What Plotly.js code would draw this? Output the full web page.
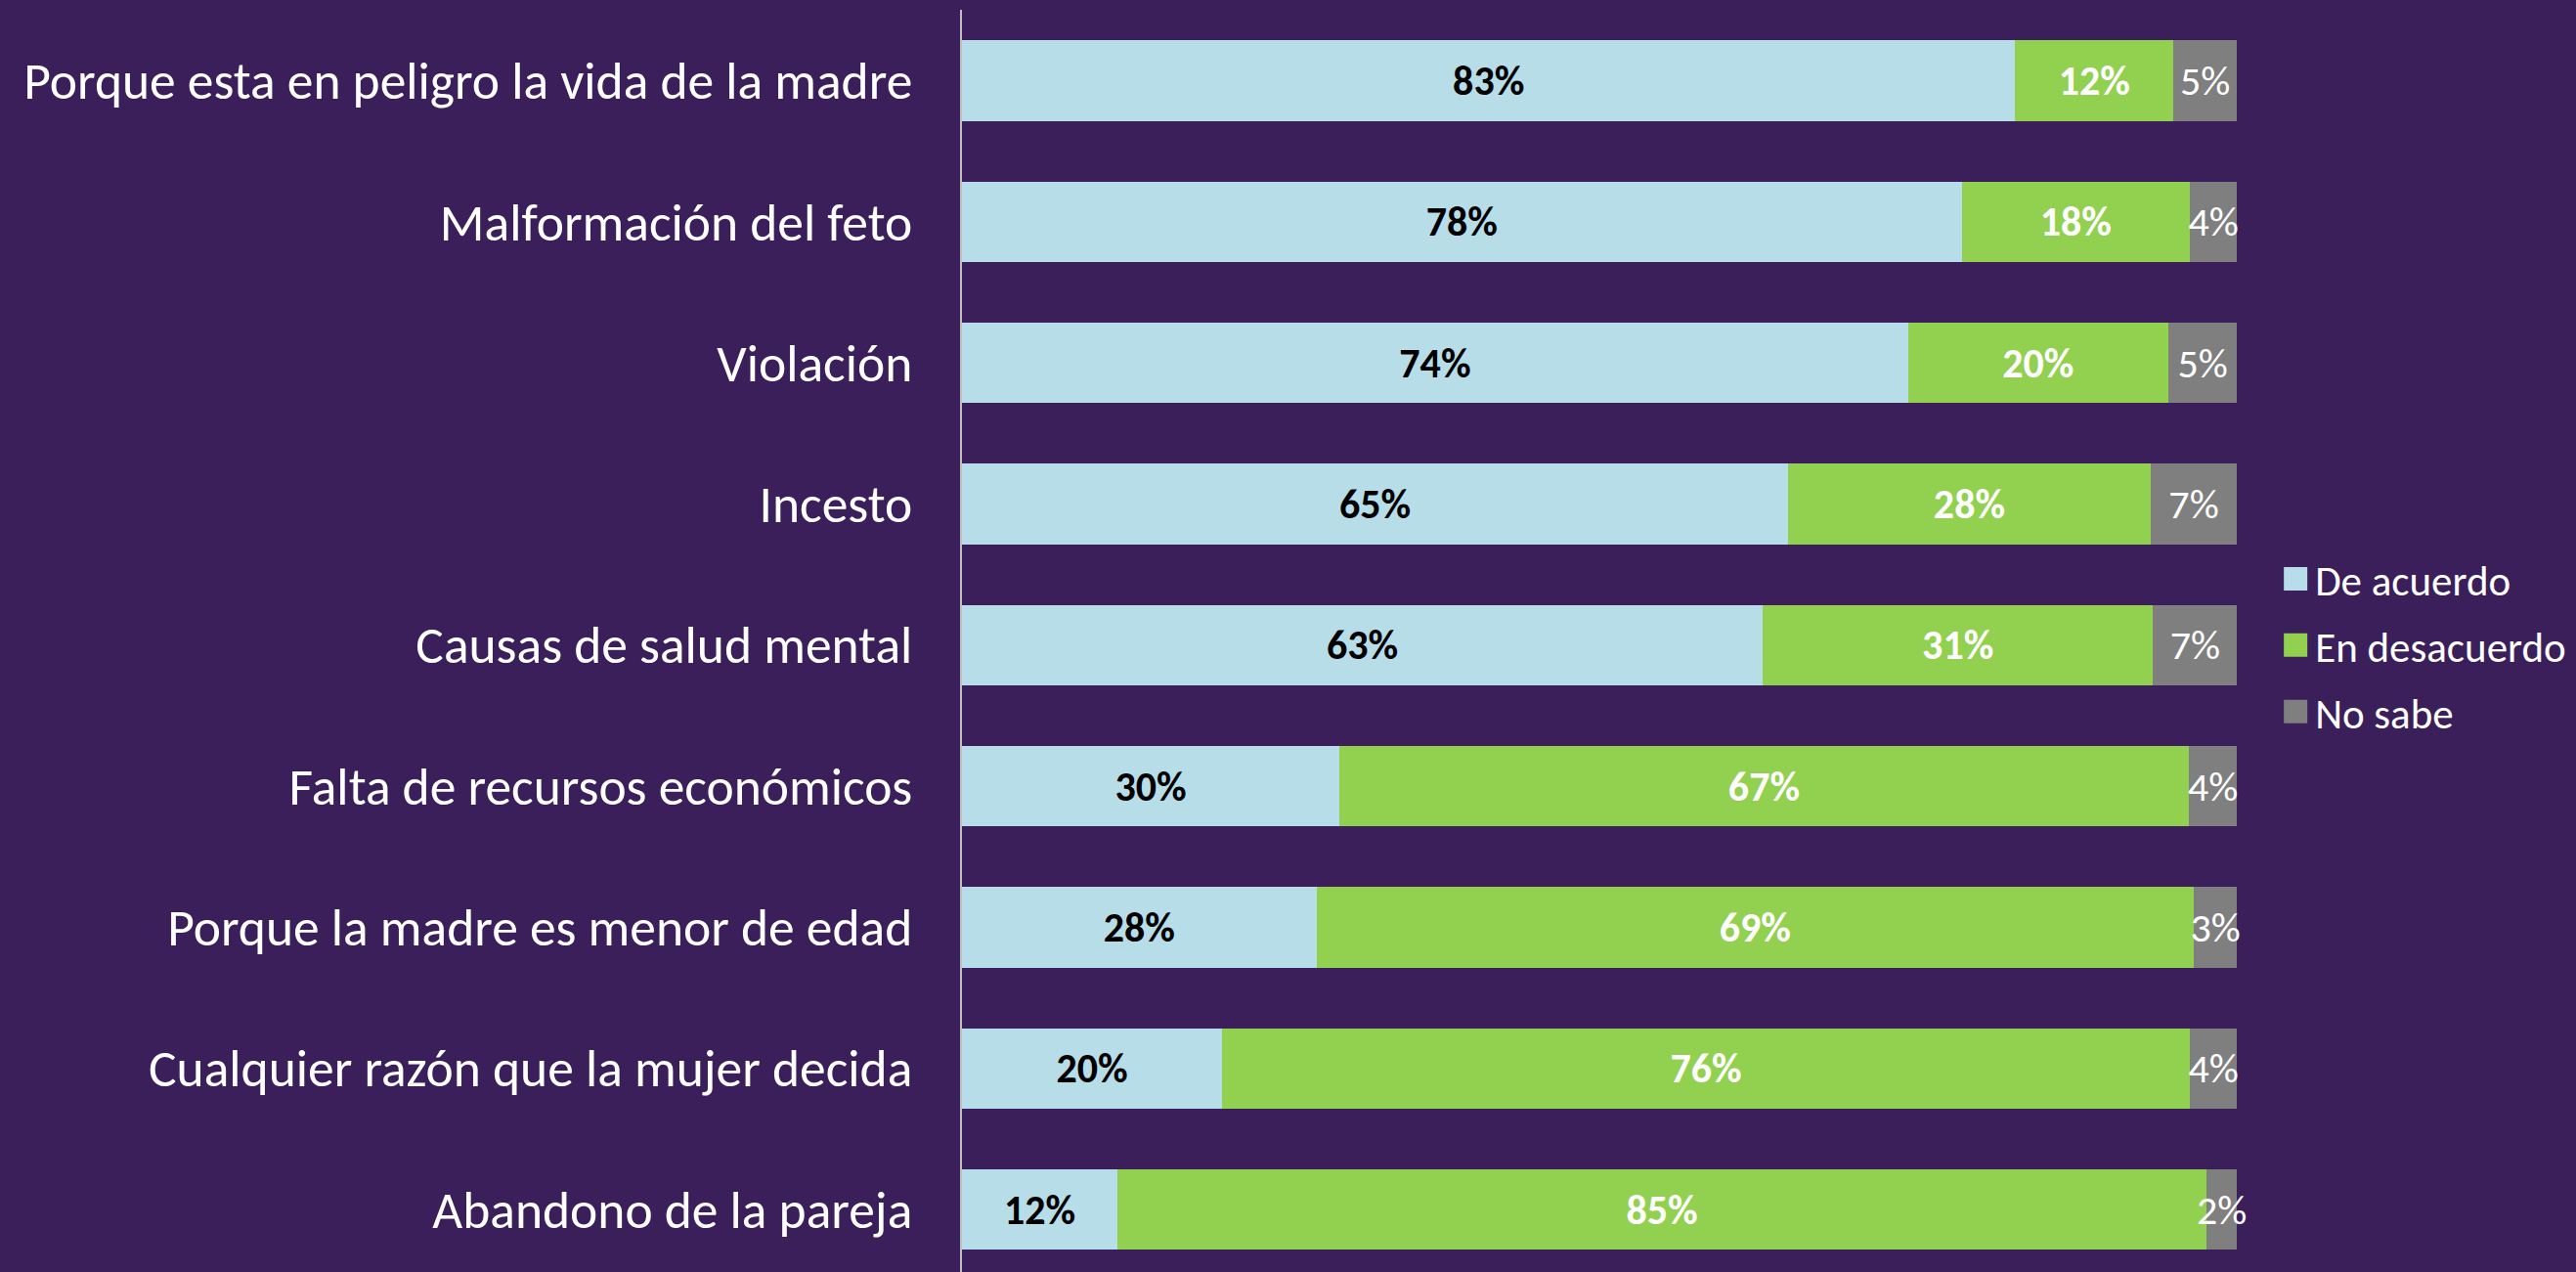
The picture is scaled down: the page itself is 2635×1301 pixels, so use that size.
<!DOCTYPE html>
<html>
<head>
<meta charset="utf-8">
<script src="https://cdn.plot.ly/plotly-3.0.1.min.js"></script>
<style>
html,body{margin:0;padding:0;background:#3B1F5A;}
#chart{width:2635px;height:1301px;}
</style>
</head>
<body>
<div id="chart"></div>
<script>
const categories = [
  "Porque esta en peligro la vida de la madre",
  "Malformación del feto",
  "Violación",
  "Incesto",
  "Causas de salud mental",
  "Falta de recursos económicos",
  "Porque la madre es menor de edad",
  "Cualquier razón que la mujer decida",
  "Abandono de la pareja"
];
const seriesNames = ["De acuerdo", "En desacuerdo", "No sabe"];
const deAcuerdo    = [82.6, 78.4, 74.2, 64.8, 62.8, 29.6, 27.8, 20.4, 12.2];
const enDesacuerdo = [12.4, 17.9, 20.4, 28.4, 30.6, 66.6, 68.8, 75.9, 85.4];
const noSabe       = [ 5.0,  3.7,  5.4,  6.8,  6.6,  3.8,  3.4,  3.7,  2.4];
const colors = ["#B7DDE8", "#92D050", "#7F7F7F"];

const FONT = "Carlito, Lato, 'Open Sans', sans-serif";
const seriesValues = [deAcuerdo, enDesacuerdo, noSabe];
const textStyles = [
  {color: "#000000", weight: "bold"},
  {color: "#FFFFFF", weight: "bold"},
  {color: "#FFFFFF", weight: "normal"}
];

const traces = seriesValues.map((vals, i) => ({
  type: "bar",
  orientation: "h",
  name: seriesNames[i],
  legendgroup: "g" + i,
  y: categories,
  x: vals,
  marker: {color: colors[i], line: {width: 0}},
  width: 0.57,
  texttemplate: "%{x:.0f}%",
  textposition: "inside",
  insidetextanchor: "middle",
  constraintext: "none",
  textangle: 0,
  cliponaxis: false,
  insidetextfont: {family: FONT, size: 42, color: textStyles[i].color, weight: textStyles[i].weight},
  hoverinfo: "skip"
}));

const layout = {
  width: 2635,
  height: 1301,
  paper_bgcolor: "#3B1F5A",
  plot_bgcolor: "#3B1F5A",
  barmode: "stack",
  margin: {l: 984, r: 346, t: 10, b: 0, pad: 0},
  showlegend: true,
  legend: {
    x: 1.030, y: 0.4965, xanchor: "left", yanchor: "middle",
    traceorder: "grouped", tracegroupgap: 9,
    font: {family: FONT, size: 43, color: "#FFFFFF"},
    bgcolor: "rgba(0,0,0,0)", borderwidth: 0
  },
  xaxis: {
    range: [0, 100.05], showgrid: false, zeroline: false,
    showticklabels: false, ticks: "", showline: false, fixedrange: true
  },
  yaxis: {
    type: "category",
    range: [8.4435, -0.5024],
    showgrid: false, zeroline: false, ticks: "",
    showline: true, linecolor: "#BFBFBF", linewidth: 2,
    ticklabelstandoff: 38,
    tickfont: {family: FONT, size: 53.5, color: "#FFFFFF"},
    fixedrange: true
  }
};

Plotly.newPlot("chart", traces, layout, {staticPlot: true}).then(() => {
  document.querySelectorAll(".legendpoints path").forEach(p => {
    p.setAttribute("d", "M12,12H-12V-12H12Z");
  });
});
</script>
</body>
</html>
